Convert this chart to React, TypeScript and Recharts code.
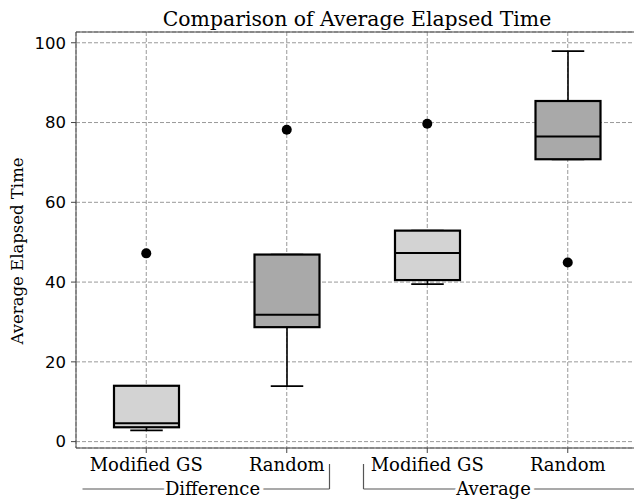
import {
    ComposedChart,
    Bar,
    Scatter,
    XAxis,
    YAxis,
    CartesianGrid,
    ReferenceLine,
    Label,
} from "recharts"

const categories = ["Modified GS", "Random", "Modified GS", "Random"]
const groups = ["Difference", "Difference", "Average", "Average"]
const whiskerLow = [2.8, 13.9, 39.5, 70.8]
const lowerQuartile = [3.6, 28.7, 40.5, 70.8]
const medians = [4.6, 31.8, 47.3, 76.5]
const upperQuartile = [14.0, 46.9, 52.9, 85.4]
const whiskerHigh = [14.0, 46.9, 52.9, 97.9]
const outliers = [47.2, 78.2, 79.7, 44.9]
const yTicks = [0, 20, 40, 60, 80, 100]
const yDomain = [-1.6, 102.7]

const data = categories.map((method, i) => ({
    slot: `${groups[i]}: ${method}`,
    method,
    group: groups[i],
    low: whiskerLow[i],
    q1: lowerQuartile[i],
    median: medians[i],
    q3: upperQuartile[i],
    high: whiskerHigh[i],
    outlier: outliers[i],
}))

const serif = "'DejaVu Serif', serif"
const sans = "'DejaVu Sans', sans-serif"
const gridColor = "#999"
const spineColor = "#444"

function BoxShape(props: any) {
    const { x, y, width, height, payload } = props
    const { low, high, q1, median, q3, method } = payload
    // pixel position of a value, taken from the bar's own [low, high] extent
    const perUnit = height / (high - low)
    const py = (v: number) => y + (high - v) * perUnit
    const cx = x + width / 2
    const cap = width / 4
    const fill = method === "Random" ? "#a9a9a9" : "#d3d3d3"

    return (
        <g>
            <line x1={cx} x2={cx} y1={py(low)} y2={py(q1)} stroke="#000" strokeWidth={1.6} />
            <line x1={cx} x2={cx} y1={py(high)} y2={py(q3)} stroke="#000" strokeWidth={1.6} />
            <line x1={cx - cap} x2={cx + cap} y1={py(low)} y2={py(low)} stroke="#000" strokeWidth={1.8} />
            <line x1={cx - cap} x2={cx + cap} y1={py(high)} y2={py(high)} stroke="#000" strokeWidth={1.8} />
            <rect
                x={x}
                y={py(q3)}
                width={width}
                height={py(q1) - py(q3)}
                fill={fill}
                stroke="#000"
                strokeWidth={2.2}
            />
            <line x1={x} x2={x + width} y1={py(median)} y2={py(median)} stroke="#000" strokeWidth={2} />
        </g>
    )
}

function CategoryTick({ x, y, payload }: any) {
    return (
        <text x={x} y={y + 15.5} textAnchor="middle" fontFamily={serif} fontSize={18} fill="#000">
            {categories[payload.index]}
        </text>
    )
}

function GroupTick({ x, y, payload }: any) {
    const first = payload.index === 0
    const lineY = y + 15
    const left = x - 134
    const right = first ? x + 113 : x + 150
    const cornerX = first ? right : left
    return (
        <g>
            <line x1={left} x2={right} y1={lineY} y2={lineY} stroke="#555" strokeWidth={1.2} />
            <line x1={cornerX} x2={cornerX} y1={y - 10} y2={lineY} stroke="#555" strokeWidth={1.2} />
            <text
                x={x - 4}
                y={y + 20.5}
                textAnchor="middle"
                fontFamily={serif}
                fontSize={18}
                fill="#000"
                stroke="#fff"
                strokeWidth={7}
                paintOrder="stroke"
            >
                {payload.value}
            </text>
        </g>
    )
}

function YTitle({ viewBox }: any) {
    const cx = viewBox.x + 17
    const cy = viewBox.y + viewBox.height / 2 + 11
    return (
        <text
            x={cx}
            y={cy}
            transform={`rotate(-90 ${cx} ${cy})`}
            textAnchor="middle"
            dominantBaseline="central"
            fontFamily={serif}
            fontSize={16.5}
            fill="#000"
        >
            Average Elapsed Time
        </text>
    )
}

export default function App() {
    return (
        <div
            style={{
                position: "absolute",
                left: 0,
                top: 0,
                width: 634,
                height: 499,
                overflow: "hidden",
                background: "#fff",
            }}
        >
            <ComposedChart
                width={642}
                height={499}
                data={data}
                margin={{ top: 32, right: 4, bottom: 0, left: 0 }}
            >
                <CartesianGrid stroke={gridColor} strokeDasharray="4 2" />
                <XAxis
                    dataKey="slot"
                    height={26}
                    tick={<CategoryTick />}
                    tickSize={5}
                    tickMargin={2}
                    axisLine={{ stroke: spineColor }}
                    tickLine={{ stroke: spineColor }}
                    interval={0}
                />
                <XAxis
                    xAxisId="group"
                    dataKey="group"
                    allowDuplicatedCategory={false}
                    height={25}
                    tick={<GroupTick />}
                    tickSize={0}
                    tickMargin={0}
                    axisLine={false}
                    tickLine={false}
                    interval={0}
                />
                <YAxis
                    width={76}
                    type="number"
                    domain={yDomain}
                    ticks={yTicks}
                    allowDataOverflow
                    tickSize={5}
                    tickMargin={5}
                    axisLine={{ stroke: spineColor }}
                    tickLine={{ stroke: spineColor }}
                    tick={{ fontFamily: sans, fontSize: 16.5, fill: "#000" }}
                >
                    <Label content={<YTitle />} />
                </YAxis>
                <ReferenceLine y={yDomain[1]} stroke={spineColor} strokeWidth={1}>
                    <Label
                        value="Comparison of Average Elapsed Time"
                        position="top"
                        offset={6}
                        fontFamily={serif}
                        fontSize={20.4}
                        fill="#000"
                    />
                </ReferenceLine>
                <Bar
                    dataKey={(d: any) => [d.low, d.high]}
                    barSize={65}
                    shape={<BoxShape />}
                    isAnimationActive={false}
                />
                <Scatter
                    dataKey="outlier"
                    isAnimationActive={false}
                    shape={(p: any) => <circle cx={p.cx} cy={p.cy} r={5} fill="#000" />}
                />
            </ComposedChart>
        </div>
    )
}
